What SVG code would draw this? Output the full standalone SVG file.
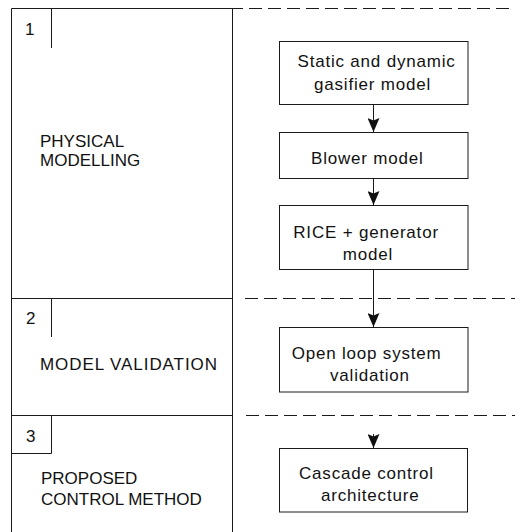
<svg xmlns="http://www.w3.org/2000/svg" width="515" height="532" viewBox="0 0 515 532">
<style>
  .ln { stroke: #1a1a1a; stroke-width: 1; fill: none; }
  .dash { stroke: #1a1a1a; stroke-width: 1; fill: none; stroke-dasharray: 13 6; }
  .box { fill: #ffffff; stroke: #1a1a1a; stroke-width: 1; }
  .lbl { font-family: "Liberation Sans", Arial, sans-serif; font-size: 17px; fill: #111; }
  .bt { font-family: "Liberation Sans", Arial, sans-serif; font-size: 17px; fill: #111; letter-spacing: 0.8px; }
  .conn { stroke: #1a1a1a; stroke-width: 1; fill: none; marker-end: url(#arr); }
</style>
<defs>
  <marker id="arr" viewBox="0 -6 14 12" refX="14" refY="0" markerWidth="14" markerHeight="12" markerUnits="userSpaceOnUse" orient="auto">
    <path d="M0,-6 L14,0 L0,6 L2.5,0 Z" fill="#111"/>
  </marker>
</defs>
<rect width="515" height="532" fill="#ffffff"/>

<g id="grid">
  <line class="ln" x1="11.5" y1="8.5" x2="11.5" y2="532"/>
  <line class="ln" x1="232.5" y1="8.5" x2="232.5" y2="532"/>
  <line class="ln" x1="11.5" y1="8.5" x2="243" y2="8.5"/>
  <line class="dash" x1="249" y1="8.5" x2="515" y2="8.5"/>
  <line class="ln" x1="11.5" y1="298.5" x2="233" y2="298.5"/>
  <line class="dash" x1="245" y1="298.5" x2="515" y2="298.5"/>
  <line class="ln" x1="11.5" y1="415.5" x2="233" y2="415.5"/>
  <line class="dash" x1="246" y1="415.5" x2="515" y2="415.5"/>
</g>

<g id="section1">
  <line class="ln" x1="51.5" y1="8.5" x2="51.5" y2="48"/>
  <text class="lbl" x="25" y="35">1</text>
  <text class="lbl" x="40" y="147">PHYSICAL</text>
  <text class="lbl" x="40" y="165.5">MODELLING</text>
</g>
<g id="section2">
  <line class="ln" x1="51.5" y1="298.5" x2="51.5" y2="337"/>
  <text class="lbl" x="26" y="324">2</text>
  <text class="lbl" x="40" y="369.5" textLength="177" lengthAdjust="spacing">MODEL VALIDATION</text>
</g>
<g id="section3">
  <polyline class="ln" points="51.5,415.5 51.5,453.5 11.5,453.5"/>
  <text class="lbl" x="26" y="442">3</text>
  <text class="lbl" x="41" y="483.5">PROPOSED</text>
  <text class="lbl" x="41" y="505">CONTROL METHOD</text>
</g>

<g id="connectors">
  <line class="conn" x1="373.5" y1="104.5" x2="373.5" y2="132"/>
  <line class="conn" x1="373.5" y1="178.5" x2="373.5" y2="205"/>
  <line class="conn" x1="373.5" y1="269.5" x2="373.5" y2="327"/>
  <line class="conn" x1="373.5" y1="434" x2="373.5" y2="448"/>
</g>

<g id="gasifier">
  <rect class="box" x="279.5" y="41.5" width="188.5" height="63"/>
  <text class="bt" x="297.5" y="67">Static and dynamic</text>
  <text class="bt" x="314" y="90">gasifier model</text>
</g>
<g id="blower">
  <rect class="box" x="279.5" y="132.5" width="188.5" height="46"/>
  <text class="bt" x="311" y="163.5">Blower model</text>
</g>
<g id="rice">
  <rect class="box" x="279.5" y="205.5" width="188.5" height="64"/>
  <text class="bt" x="293.3" y="237.5">RICE + generator</text>
  <text class="bt" x="342.7" y="259.5">model</text>
</g>
<g id="openloop">
  <rect class="box" x="279.5" y="327.5" width="188.5" height="64.5"/>
  <text class="bt" x="291.7" y="358.5">Open loop system</text>
  <text class="bt" x="330" y="380.5">validation</text>
</g>
<g id="cascade">
  <rect class="box" x="279.5" y="448.5" width="188" height="63.5"/>
  <text class="bt" x="299" y="478.5">Cascade control</text>
  <text class="bt" x="321" y="500.5">architecture</text>
</g>
</svg>
